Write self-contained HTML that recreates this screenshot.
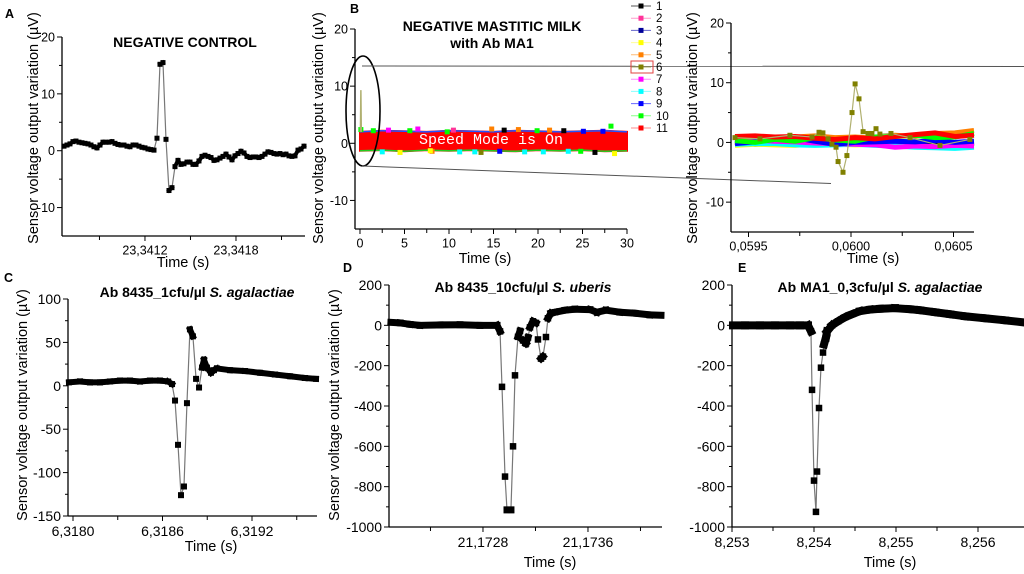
<!DOCTYPE html>
<html><head><meta charset="utf-8"><style>
html,body{margin:0;padding:0;background:#fff;}
svg{display:block;font-family:"Liberation Sans",Arial,sans-serif;}
</style></head><body>
<svg id="fig" width="1024" height="574" viewBox="0 0 1024 574" xmlns="http://www.w3.org/2000/svg"></svg>
<script>
// ---------- Panel A data ----------
const aStart = 23.340666, aStep = 0.00001978;
const aValues = [0.8,1.0,1.2,1.6,1.7,1.5,1.4,1.3,1.2,1.0,0.7,0.5,1.0,1.5,1.5,1.5,1.6,1.3,1.1,1.0,1.0,0.8,0.7,1.0,1.0,0.8,0.6,0.5,0.3,0.2,0.1,2.2,15.2,15.5,2.0,-7,-6.5,-2.8,-1.7,-2.4,-2.3,-2.0,-2.0,-2.4,-2.4,-1.8,-1.0,-0.8,-1.0,-1.2,-1.7,-1.6,-1.3,-1.0,-0.6,-1.1,-1.6,-0.9,-0.5,-0.1,-0.4,-1.0,-1.2,-1.1,-1.1,-1.2,-1.0,-0.6,-0.2,-0.3,-0.5,-0.6,-0.5,-0.7,-0.6,-0.9,-1.0,-0.9,0.1,0.3,0.8];
const aXTickLabels = [23.3412, 23.3418];
const aXMinor = [23.3409, 23.3415, 23.3421];
const aYTickLabels = [-10, 0, 10, 20];
// ---------- Panel B (main) data ----------
const bBandT = [0,2.5,5,7.5,10,12.5,15,17.5,20,22.5,25,27.5,30];
const bBandHigh = [2.0,2.2,2.1,2.0,2.2,2.1,2.0,2.2,2.1,2.0,2.1,2.2,2.0];
const bBandLow = [-1.3,-1.2,-1.4,-1.2,-1.3,-1.2,-1.3,-1.4,-1.2,-1.3,-1.2,-1.4,-1.3];
const bScatterT = [0.1,1.5,3.2,4.5,6.5,8.1,9.8,11.2,13.6,14.8,16.2,18.5,19.9,21.3,23.4,25.1,26.4,28.2,28.6,2.5,5.6,7.9,10.5,12.9,15.7,17.8,20.6,22.9,24.8,27.3];
const bScatterV = [2.4,2.2,2.3,-1.6,2.5,-1.4,2.0,-1.5,-1.6,2.5,2.3,-1.5,2.2,2.3,-1.4,2.1,-1.6,3.0,-1.8,-1.5,2.2,-1.3,2.3,-1.5,-1.4,2.4,-1.5,2.2,-1.4,2.1];
const bScatterC = [9,9,6,3,6,4,9,7,5,4,0,7,9,4,7,8,0,9,3,7,9,3,1,7,8,4,7,0,9,8];
const bSpikeT = [0.05, 0.1, 0.15];
const bSpikeV = [2.0, 9.3, 2.0];
const bXTickLabels = [0,5,10,15,20,25,30];
const bXMinor = [2.5,7.5,12.5,17.5,22.5,27.5];
const legendLabels = ["1","2","3","4","5","6","7","8","9","10","11"];
// ---------- Panel B (zoom) data ----------
const brOliveT = [0.059434,0.059556,0.059702,0.059810,0.059844,0.059863,0.059888,0.059907,0.059927,0.059937,0.059961,0.059980,0.060005,0.060020,0.060039,0.060059,0.060083,0.060102,0.060122,0.060141,0.060195,0.060288,0.060434,0.060580];
const brOliveV = [0.8,0.6,1.2,0.9,1.7,1.6,0.6,-0.3,-0.8,-3.2,-5,-2.2,5,9.8,7.3,1.8,1.5,1.5,2.3,1.4,1.5,0.8,-0.5,0.5];
const brBgT = [0.059434,0.059532,0.059629,0.059727,0.059824,0.059922,0.060020,0.060117,0.060215,0.060312,0.060410,0.060507,0.060600];
const brYellow = [-0.5,-0.3,-0.4,-0.5,-0.2,-0.3,-0.4,-0.3,-0.5,-0.4,-0.3,-0.6,-0.5];
const brBlack = [0.0,-0.2,-0.1,-0.3,-0.2,-0.1,0.1,-0.1,0.0,-0.2,-0.3,-0.4,-0.1];
const brCyan = [-0.3,-0.2,-0.2,-0.4,-0.5,-0.4,-0.3,-0.5,-0.6,-0.8,-0.9,-1.0,-0.8];
const brMagenta = [0.6,0.4,0.2,0.1,-0.1,-0.2,-0.3,-0.4,-0.8,-0.6,-0.7,-0.5,-0.6];
const brOrange = [0.9,1.0,0.8,0.9,1.1,0.8,0.9,0.7,1.2,1.0,1.5,1.6,2.0];
const brBlue = [-0.2,0.1,0.5,0.8,0.2,-0.3,0.0,0.1,0.2,0.1,0.3,0.0,0.2];
const brGreen = [0.3,0.0,0.5,0.2,0.8,0.4,0.2,0.9,1.0,1.2,0.8,0.9,1.5];
const brRed = [1.0,1.1,0.9,1.0,0.7,0.5,0.8,0.6,1.0,1.3,1.6,1.0,1.2];
const brXTickLabels = [0.0595, 0.0600, 0.0605];
const brXMinor = [0.05975, 0.06025];
// ---------- Panel C data ----------
const cTimes = [6.317973,6.318047,6.318114,6.318181,6.318248,6.318315,6.318382,6.318449,6.318516,6.318583,6.318637,6.318664,6.318684,6.318704,6.318724,6.318744,6.318764,6.318784,6.318804,6.318825,6.318845,6.318865,6.318878,6.318898,6.318925,6.318945,6.318965,6.319053,6.319153,6.319254,6.319354,6.319455,6.319555,6.319629];
const cValues = [4,5,4,4,5,6,6,5,6,6,5,2,-17,-68,-126,-116,-20,65,57,8,-2,21,30,21,15,18,20,18,17,15,13,11,9,8];
const cXTickLabels = [6.3180, 6.3186, 6.3192];
const cXMinor = [6.3183, 6.3189, 6.3195];
const cYTickLabels = [-150,-100,-50,0,50,100];
// ---------- Panel D data ----------
const dTimes = [21.172099,21.172168,21.172244,21.172320,21.172472,21.172625,21.172777,21.172907,21.172930,21.172945,21.172968,21.172983,21.173013,21.173029,21.173044,21.173067,21.173082,21.173105,21.173128,21.173143,21.173158,21.173181,21.173204,21.173219,21.173242,21.173257,21.173280,21.173295,21.173318,21.173349,21.173425,21.173501,21.173615,21.173669,21.173737,21.173844,21.173958,21.174072,21.174156];
const dValues = [15,12,5,0,2,3,0,0,-30,-305,-750,-915,-915,-600,-248,-57,-28,-75,-90,-60,-10,20,12,-70,-165,-155,-58,35,60,65,75,80,78,65,75,65,60,52,50];
const dXTickLabels = [21.1728, 21.1736];
const dXMinor = [21.1724, 21.1732, 21.1740];
const deYTickLabels = [-1000,-800,-600,-400,-200,0,200];
// ---------- Panel E data ----------
const eTimes = [8.253012,8.253159,8.253341,8.253524,8.253707,8.253829,8.253927,8.253963,8.253976,8.254000,8.254024,8.254037,8.254061,8.254085,8.254110,8.254122,8.254146,8.254159,8.254220,8.254293,8.254378,8.254463,8.254561,8.254683,8.254805,8.254988,8.255171,8.255293,8.255476,8.255659,8.255841,8.256085,8.256329,8.256549];
const eValues = [0,0,0,0,0,0,0,-30,-320,-770,-925,-725,-410,-210,-135,-95,-60,-30,0,20,40,55,70,78,82,85,80,75,65,55,45,35,25,15];
const eXTickLabels = [8.253, 8.254, 8.255, 8.256];
const eXMinor = [8.2535, 8.2545, 8.2555];

const NS = "http://www.w3.org/2000/svg";
const svg = document.getElementById("fig");
function mk(tag, attrs, parent) {
  const e = document.createElementNS(NS, tag);
  for (const k in attrs) e.setAttribute(k, attrs[k]);
  (parent || svg).appendChild(e);
  return e;
}
function lin(d0, d1, r0, r1) { return v => r0 + (v - d0) / (d1 - d0) * (r1 - r0); }
function fmt(v, dec) { return v.toFixed(dec).replace(".", ","); }
function txt(parent, x, y, s, size, anchor, weight) {
  const t = mk("text", {x: x, y: y, "font-size": size, "text-anchor": anchor || "middle", fill: "#000"}, parent);
  if (weight) t.setAttribute("font-weight", weight);
  t.textContent = s;
  return t;
}

function axes(g, p) {
  const sx = p.sx, sy = p.sy;
  const fs = p.fs || 12.5;
  const yTop = sy(p.yd[1]);
  let l = mk("line", {x1: p.x0, y1: yTop, x2: p.x0, y2: p.yb, stroke: "#000", "stroke-width": 1.3}, g);
  
  
  l = mk("line", {x1: p.x0, y1: p.yb, x2: p.x1, y2: p.yb, stroke: "#000", "stroke-width": 1.3}, g);
  
  
  p.yLabels.forEach(v => {
    const y = sy(v);
    mk("line", {x1: p.x0 - 5, y1: y, x2: p.x0, y2: y, stroke: "#000"}, g);
    const t = txt(g, p.x0 - 7, y + fs * 0.36, String(v), fs, "end");
    
    
  });
  p.yMinor.forEach(v => {
    const y = sy(v);
    mk("line", {x1: p.x0 - 3, y1: y, x2: p.x0, y2: y, stroke: "#000"}, g);
  });
  p.xLabels.forEach(v => {
    const x = sx(v);
    mk("line", {x1: x, y1: p.yb, x2: x, y2: p.yb + 5, stroke: "#000"}, g);
    const t = txt(g, x, p.yb + 6 + fs, fmt(v, p.dec), fs, "middle");
    
    
  });
  p.xMinor.forEach(v => {
    const x = sx(v);
    mk("line", {x1: x, y1: p.yb, x2: x, y2: p.yb + 4, stroke: "#000"}, g);
  });
  const xt = txt(g, p.xtx, p.xty, "Time (s)", 14.5, "middle");
  
  
  if (p.ylx) {
    const yt = txt(g, 0, 0, "Sensor voltage output variation (\u00b5V)", 14.5, "middle");
    yt.setAttribute("transform", "translate(" + p.ylx + "," + p.yly + ") rotate(-90)");
    
    
  }
}

function trace(g, sx, sy, ts, vs, ms, thick, lineColor, markColor) {
  const pts = ts.map((t, i) => [sx(t), sy(vs[i])]);
  const pl = mk("polyline", {points: pts.map(p => p.join(",")).join(" "), fill: "none", stroke: lineColor, "stroke-width": 1.2}, g);
  
  
  for (let i = 1; i < pts.length; i++) {
    const dx = pts[i][0] - pts[i-1][0], dy = pts[i][1] - pts[i-1][1];
    if (Math.abs(dy) < 8 && Math.hypot(dx, dy) < 26) {
      mk("line", {x1: pts[i-1][0], y1: pts[i-1][1], x2: pts[i][0], y2: pts[i][1], stroke: markColor, "stroke-width": thick, "stroke-linecap": "square"}, g);
    }
  }
  pts.forEach(p => {
    const r = mk("rect", {x: p[0] - ms/2, y: p[1] - ms/2, width: ms, height: ms, fill: markColor}, g);
    
    
  });
}

function panel(name, p) {
  const g = mk("g", {});
  
  
  p.sx = lin(p.xd[0], p.xd[1], p.x0, p.x1);
  p.sy = lin(p.yd[0], p.yd[1], p.yb, p.yt);
  return g;
}

// Panel letters
[["A",5,18],["B",350,13],["C",4,282],["D",343,272],["E",738,272]].forEach(a => {
  const t = txt(svg, a[1], a[2], a[0], 12.5, "start", "bold");
  
  
});

// ---- A ----
{
  const p = {x0: 62, x1: 305, yb: 236, yt: 37, xd: [23.340653, 23.342255], yd: [-15, 20], dec: 4,
    yLabels: aYTickLabels, yMinor: [-5, 5, 15], xLabels: aXTickLabels, xMinor: aXMinor,
    xtx: 183, xty: 267, ylx: 38, yly: 128};
  const g = panel("panel-a-chart", p);
  axes(g, p);
  const ts = aValues.map((v, i) => aStart + i * aStep);
  trace(g, p.sx, p.sy, ts, aValues, 5, 4, "#777", "#000");
  const t = txt(g, 185, 47, "NEGATIVE CONTROL", 14, "middle", "bold");
  
  
}

const legendColors = ["#000000","#ff3399","#000099","#ffff00","#ff8000","#808000","#ff00ff","#00ffff","#0000ff","#00ff00","#ff0000"];
const legendLines = ["#555","#ff99cc","#6666cc","#ffff99","#ffbb77","#b0b070","#ff88ff","#88ffff","#6666ff","#88ff88","#ff8888"];

// ---- B main ----
{
  const p = {x0: 355, x1: 627, yb: 229, yt: 29, xd: [-0.56, 30], yd: [-15, 20], dec: 0,
    yLabels: [-10, 0, 10, 20], yMinor: [-5, 5, 15], xLabels: bXTickLabels, xMinor: bXMinor,
    xtx: 485, xty: 263, ylx: 323, yly: 128};
  const g = panel("panel-b-chart", p);
  axes(g, p);
  let pts = bBandT.map((t, i) => p.sx(t) + "," + p.sy(bBandHigh[i]));
  for (let i = bBandT.length - 1; i >= 0; i--) pts.push(p.sx(bBandT[i]) + "," + p.sy(bBandLow[i]));
  const band = mk("polygon", {points: pts.join(" "), fill: "#ff0000", stroke: "#ff0000", "stroke-width": 2}, g);
  
  
  const top = mk("polyline", {points: bBandT.map((t, i) => p.sx(t) + "," + p.sy(bBandHigh[i])).join(" "), fill: "none", stroke: "#2255ff", "stroke-width": 1.5}, g);
  
  
  const bot = mk("polyline", {points: bBandT.map((t, i) => p.sx(t) + "," + p.sy(bBandLow[i])).join(" "), fill: "none", stroke: "#22cc22", "stroke-width": 1.5}, g);
  
  
  bScatterT.forEach((t, i) => {
    const r = mk("rect", {x: p.sx(t) - 2.5, y: p.sy(bScatterV[i]) - 2.5, width: 5, height: 5, fill: legendColors[bScatterC[i]]}, g);
    
    
  });
  const sp = mk("polyline", {points: bSpikeT.map((t, i) => p.sx(t) + "," + p.sy(bSpikeV[i])).join(" "), fill: "none", stroke: "#b0b070", "stroke-width": 1.5}, g);
  
  
  const sm = mk("text", {x: 491, y: 144, "font-size": 15, "text-anchor": "middle", fill: "#fff", "font-family": "Liberation Mono, monospace"}, g);
  sm.textContent = "Speed Mode is On";
  
  
  const el = mk("ellipse", {cx: 363, cy: 111, rx: 17, ry: 55, fill: "none", stroke: "#000", "stroke-width": 1.6}, g);
  
  
  let l = mk("line", {x1: 362, y1: 66, x2: 1024, y2: 66.5, stroke: "#555", "stroke-width": 1}, g);
  
  
  l = mk("line", {x1: 362, y1: 166, x2: 831, y2: 183.5, stroke: "#555", "stroke-width": 1}, g);
  
  
  let t = txt(g, 492, 31, "NEGATIVE MASTITIC MILK", 14, "middle", "bold");
  
  
  t = txt(g, 492, 48, "with Ab MA1", 14, "middle", "bold");
  
  
  const lg = mk("g", {}, g);
  
  
  legendLabels.forEach((lab, i) => {
    const y = 6 + i * 12.2;
    const e = mk("g", {}, lg);
    
    
    mk("line", {x1: 631, y1: y, x2: 651, y2: y, stroke: legendLines[i], "stroke-width": 1}, e);
    mk("rect", {x: 638.5, y: y - 2.5, width: 5, height: 5, fill: legendColors[i]}, e);
    txt(e, 656, y + 4, lab, 11.5, "start");
  });
  const box = mk("rect", {x: 631, y: 61, width: 22, height: 12, fill: "none", stroke: "#e04040", "stroke-width": 1}, lg);
  
  
}

// ---- B zoom ----
{
  const p = {x0: 731, x1: 974, yb: 232, yt: 23, xd: [0.0594146, 0.0606], yd: [-15, 20], dec: 4,
    yLabels: [-10, 0, 10, 20], yMinor: [-5, 5, 15], xLabels: brXTickLabels, xMinor: brXMinor,
    xtx: 873, xty: 263, ylx: 697, yly: 128};
  const g = panel("panel-b-zoom-chart", p);
  axes(g, p);
  const bg = [[brYellow,3],[brBlack,0],[brCyan,7],[brMagenta,6],[brOrange,4],[brBlue,8],[brGreen,9],[brRed,10]];
  bg.forEach(s => {
    const pts = brBgT.map((t, i) => p.sx(t) + "," + p.sy(s[0][i])).join(" ");
    const pl = mk("polyline", {points: pts, fill: "none", stroke: legendColors[s[1]], "stroke-width": 5, "stroke-linejoin": "round"}, g);
    
    
  });
  const pts = brOliveT.map((t, i) => [p.sx(t), p.sy(brOliveV[i])]);
  const pl = mk("polyline", {points: pts.map(q => q.join(",")).join(" "), fill: "none", stroke: "#b0b070", "stroke-width": 1.2}, g);
  
  
  pts.forEach(q => {
    const r = mk("rect", {x: q[0] - 2.5, y: q[1] - 2.5, width: 5, height: 5, fill: "#808000"}, g);
    
    
  });
}

// ---- C ----
{
  const p = {x0: 68, x1: 317, yb: 516, yt: 299, xd: [6.3179665, 6.3196358], yd: [-150, 100], dec: 4, fs: 14,
    yLabels: cYTickLabels, yMinor: [-125,-75,-25,25,75], xLabels: cXTickLabels, xMinor: cXMinor,
    xtx: 211, xty: 551, ylx: 27, yly: 405};
  const g = panel("panel-c-chart", p);
  axes(g, p);
  trace(g, p.sx, p.sy, cTimes, cValues, 6, 6, "#777", "#000");
  const t = txt(g, 197, 297, "", 14, "middle", "bold");
  t.innerHTML = 'Ab 8435_1cfu/\u00b5l <tspan font-style="italic">S. agalactiae</tspan>';
  
  
}

// ---- D ----
{
  const p = {x0: 389, x1: 662, yb: 527, yt: 285, xd: [21.172084, 21.174164], yd: [-1000, 200], dec: 4, fs: 14,
    yLabels: deYTickLabels, yMinor: [-900,-700,-500,-300,-100,100], xLabels: dXTickLabels, xMinor: dXMinor,
    xtx: 550, xty: 567, ylx: 339, yly: 405};
  const g = panel("panel-d-chart", p);
  axes(g, p);
  trace(g, p.sx, p.sy, dTimes, dValues, 6.5, 7, "#777", "#000");
  const t = txt(g, 523, 292, "", 14, "middle", "bold");
  t.innerHTML = 'Ab 8435_10cfu/\u00b5l <tspan font-style="italic">S. uberis</tspan>';
  
  
}

// ---- E ----
{
  const p = {x0: 732, x1: 1024, yb: 527, yt: 285, xd: [8.253, 8.256561], yd: [-1000, 200], dec: 3, fs: 14,
    yLabels: deYTickLabels, yMinor: [-900,-700,-500,-300,-100,100], xLabels: eXTickLabels, xMinor: eXMinor,
    xtx: 890, xty: 567, ylx: 0};
  const g = panel("panel-e-chart", p);
  axes(g, p);
  trace(g, p.sx, p.sy, eTimes, eValues, 6.5, 8, "#777", "#000");
  const t = txt(g, 880, 292, "", 14, "middle", "bold");
  t.innerHTML = 'Ab MA1_0,3cfu/\u00b5l <tspan font-style="italic">S. agalactiae</tspan>';
  
  
}
</script>
</body></html>
